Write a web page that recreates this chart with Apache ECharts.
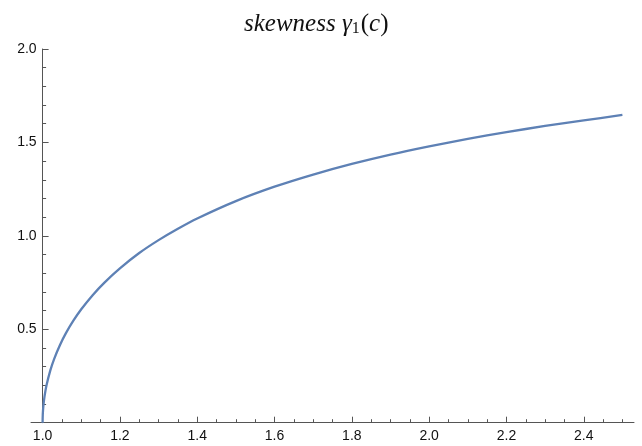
<!DOCTYPE html>
<html>
<head>
<meta charset="utf-8">
<script src="https://cdn.jsdelivr.net/npm/echarts@6/dist/echarts.min.js"></script>
<style>html,body{margin:0;padding:0;background:#fff}#c{width:642px;height:446px}</style>
</head>
<body>
<div id="c"></div>
<script>
// values read (and visually smoothed) from the reference picture
var cValues = [1.000, 1.0005, 1.002, 1.005, 1.01, 1.02, 1.03, 1.045, 1.06, 1.08, 1.1, 1.13, 1.16, 1.2, 1.25, 1.3, 1.35, 1.4, 1.5, 1.6, 1.7, 1.8, 1.9, 2.0, 2.1, 2.2, 2.3, 2.4, 2.5];
var skewValues = [0, 0.045, 0.089, 0.141, 0.199, 0.280, 0.342, 0.416, 0.478, 0.547, 0.607, 0.684, 0.750, 0.826, 0.908, 0.977, 1.038, 1.093, 1.186, 1.263, 1.328, 1.385, 1.435, 1.479, 1.519, 1.555, 1.588, 1.618, 1.647];
var xMajorTicks = [1.0, 1.2, 1.4, 1.6, 1.8, 2.0, 2.2, 2.4];
var xMinorTicks = [1.05, 1.1, 1.15, 1.25, 1.3, 1.35, 1.45, 1.5, 1.55, 1.65, 1.7, 1.75, 1.85, 1.9, 1.95, 2.05, 2.1, 2.15, 2.25, 2.3, 2.35, 2.45, 2.5];
var yMajorTicks = [0.5, 1.0, 1.5, 2.0];
var yMinorTicks = [0.1, 0.2, 0.3, 0.4, 0.6, 0.7, 0.8, 0.9, 1.1, 1.2, 1.3, 1.4, 1.6, 1.7, 1.8, 1.9];
var titleParts = ['skewness ', 'γ', '1', '(', 'c', ')'];

var chart = echarts.init(document.getElementById('c'), null, {renderer: 'canvas'});
var axisColor = '#555';
var labelStyle = {color: '#111', fontFamily: 'Liberation Sans, Arial, sans-serif', fontSize: 14};
var data = cValues.map(function (c, i) { return [c, skewValues[i]]; });
var serif = 'Liberation Serif, Times New Roman, serif';

chart.setOption({
  animation: false,
  title: {
    left: 239,
    top: 7,
    text: '{it|' + titleParts[0] + '}{it|' + titleParts[1] + '}{sub|' + titleParts[2] + '}{up|' + titleParts[3] + '}{it|' + titleParts[4] + '}{up|' + titleParts[5] + '}',
    textStyle: {
      fontWeight: 'normal',
      rich: {
        it: {fontFamily: serif, fontStyle: 'italic', fontWeight: 'normal', fontSize: 25, color: '#111'},
        sub: {fontFamily: serif, fontWeight: 'normal', fontSize: 16, color: '#111', verticalAlign: 'bottom', padding: [9, 1, 0, 0]},
        up: {fontFamily: serif, fontWeight: 'normal', fontSize: 25, color: '#111'}
      }
    }
  },
  grid: {left: 31, right: 8, top: 49, bottom: 23.3},
  xAxis: [{
    type: 'value', min: 0.97, max: 2.53, gridIndex: 0, position: 'bottom',
    axisLine: {show: true, onZero: false, lineStyle: {color: axisColor, width: 1}},
    axisTick: {show: true, inside: true, length: 6, customValues: xMajorTicks, lineStyle: {color: axisColor}},
    axisLabel: {show: true, margin: 6, customValues: xMajorTicks, formatter: function (v) { return v.toFixed(1); }, color: labelStyle.color, fontFamily: labelStyle.fontFamily, fontSize: labelStyle.fontSize},
    splitLine: {show: false}
  }, {
    type: 'value', min: 0.97, max: 2.53, gridIndex: 0, position: 'bottom',
    axisLine: {show: false, onZero: false},
    axisTick: {show: true, inside: true, length: 3.5, customValues: xMinorTicks, lineStyle: {color: axisColor}},
    axisLabel: {show: false},
    splitLine: {show: false}
  }],
  yAxis: [{
    type: 'value', min: 0, max: 2, gridIndex: 0, position: 'left', offset: -11.6,
    axisLine: {show: true, onZero: false, lineStyle: {color: axisColor, width: 1}},
    axisTick: {show: true, inside: true, length: 6, customValues: yMajorTicks, lineStyle: {color: axisColor}},
    axisLabel: {show: true, margin: 6, customValues: yMajorTicks, formatter: function (v) { return v.toFixed(1); }, color: labelStyle.color, fontFamily: labelStyle.fontFamily, fontSize: labelStyle.fontSize},
    splitLine: {show: false}
  }, {
    type: 'value', min: 0, max: 2, gridIndex: 0, position: 'left', offset: -11.6,
    axisLine: {show: false, onZero: false},
    axisTick: {show: true, inside: true, length: 3.5, customValues: yMinorTicks, lineStyle: {color: axisColor}},
    axisLabel: {show: false},
    splitLine: {show: false}
  }],
  series: [{
    type: 'line',
    xAxisIndex: 0, yAxisIndex: 0,
    data: data,
    showSymbol: false,
    smooth: 0.3,
    lineStyle: {color: '#5E81B5', width: 2.3},
    z: 1
  }]
});
</script>
</body>
</html>
